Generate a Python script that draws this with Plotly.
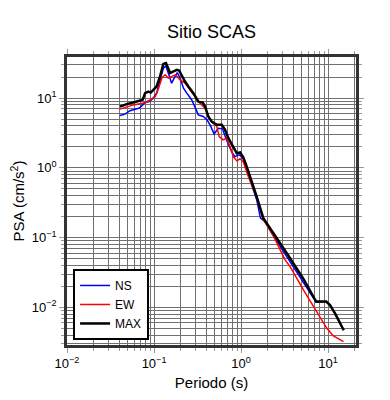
import plotly.graph_objects as go

# ---- data ----
T_max = [0.0406, 0.0485, 0.0606, 0.069, 0.0741, 0.0789, 0.0859, 0.0916, 0.098, 0.107,
         0.117, 0.128, 0.137, 0.146, 0.153, 0.167, 0.182, 0.194, 0.208, 0.227,
         0.248, 0.283, 0.323, 0.363, 0.386, 0.421, 0.46, 0.526, 0.60, 0.655,
         0.715, 0.815, 0.893, 0.975, 1.06, 1.16, 1.27, 1.51, 1.80, 2.35,
         3.35, 5.2, 7.28, 9.5, 10.5, 12.0, 15.1]
psa_max = [7.57, 8.2, 8.8, 9.2, 9.5, 11.8, 12.4, 12.0, 13.2, 14.7,
           20.4, 31.0, 31.8, 25.5, 22.9, 24.1, 25.5, 24.9, 20.9, 17.3,
           14.7, 11.8, 8.9, 8.65, 7.6, 5.4, 4.6, 4.14, 4.14, 3.5,
           2.67, 2.02, 1.62, 1.66, 1.42, 1.04, 0.75, 0.388, 0.19, 0.116,
           0.0597, 0.0255, 0.0121, 0.0121, 0.0108, 0.0082, 0.0047]

T_ns = [0.0406, 0.0464, 0.0529, 0.0606, 0.0679, 0.0741, 0.0789, 0.0881, 0.098, 0.107,
        0.117, 0.128, 0.137, 0.146, 0.159, 0.174, 0.185, 0.199, 0.218, 0.238,
        0.27, 0.295, 0.322, 0.368, 0.405, 0.44, 0.49, 0.547, 0.61, 0.68,
        0.78, 0.85, 0.95, 1.04, 1.11, 1.27, 1.51, 1.67, 1.89, 2.35,
        3.35, 5.2, 7.28, 9.5, 10.5, 12.0, 15.1]
psa_ns = [5.63, 5.9, 6.6, 6.95, 7.2, 8.0, 8.65, 8.9, 10.0, 11.8,
          18.3, 26.9, 29.0, 22.9, 16.4, 20.4, 23.3, 19.4, 13.9, 11.8,
          9.5, 7.5, 5.76, 5.45, 4.9, 4.14, 3.07, 3.69, 3.63, 2.52,
          1.7, 1.45, 1.54, 1.39, 1.22, 0.67, 0.35, 0.19, 0.17, 0.106,
          0.054, 0.0232, 0.0118, 0.0121, 0.0108, 0.0082, 0.0047]

T_ew = [0.0406, 0.0485, 0.0578, 0.069, 0.0789, 0.090, 0.103, 0.112, 0.123, 0.134,
        0.146, 0.159, 0.174, 0.185, 0.199, 0.227, 0.259, 0.295, 0.337, 0.386,
        0.421, 0.46, 0.526, 0.56, 0.62, 0.68, 0.75, 0.815, 0.893, 0.975,
        1.06, 1.21, 1.51, 1.79, 2.33, 3.2, 3.66, 5.2, 7.41, 9.66,
        11.5, 15.0]
psa_ew = [6.95, 7.43, 8.0, 8.28, 8.65, 9.46, 10.5, 13.5, 19.4, 21.6,
          19.4, 20.4, 21.6, 20.4, 18.3, 16.4, 13.2, 10.5, 8.48, 7.2,
          5.4, 4.6, 3.91, 2.81, 2.52, 2.67, 2.0, 1.44, 1.26, 1.35,
          1.22, 0.75, 0.38, 0.183, 0.108, 0.048, 0.0384, 0.0178, 0.00867, 0.00501,
          0.00389, 0.00322]

x_tickvals = [0.01, 0.1, 1, 10]
x_ticktext = ["10<sup>\u22122</sup>", "10<sup>\u22121</sup>", "10<sup>0</sup>", "10<sup>1</sup>"]
y_tickvals = [0.01, 0.1, 1, 10]
y_ticktext = ["10<sup>\u22122</sup>", "10<sup>\u22121</sup>", "10<sup>0</sup>", "10<sup>1</sup>"]

minor_x = [m * 10 ** e for e in range(-2, 2) for m in range(2, 10)]
minor_y = [m * 10 ** e for e in range(-3, 2) for m in range(2, 10)]

fig = go.Figure()
fig.add_trace(go.Scatter(x=T_ns, y=psa_ns, mode="lines", name="NS",
                         line=dict(color="#0000ff", width=1.5)))
fig.add_trace(go.Scatter(x=T_ew, y=psa_ew, mode="lines", name="EW",
                         line=dict(color="#ff0000", width=1.5)))
fig.add_trace(go.Scatter(x=T_max, y=psa_max, mode="lines", name="MAX",
                         line=dict(color="#000000", width=2.5)))

grid = "#707070"
axis_common = dict(
    type="log", showline=True, linecolor="#333333", linewidth=2.5, mirror="allticks",
    ticks="outside", ticklen=5, tickcolor="#999999", tickwidth=1,
    showgrid=True, gridcolor=grid, gridwidth=1, zeroline=False, automargin=False,
    tickfont=dict(size=13, color="black"),
)

fig.update_xaxes(**axis_common, range=[-2, 1.32], tickmode="array",
                 tickvals=x_tickvals, ticktext=x_ticktext,
                 minor=dict(tickmode="array", tickvals=minor_x, ticks="outside",
                            ticklen=3, tickcolor="#999999", showgrid=True,
                            gridcolor=grid, gridwidth=1),
                 title=dict(text="Periodo (s)", font=dict(size=15, color="black"), standoff=8))
fig.update_yaxes(**axis_common, range=[-2.54, 1.59], tickmode="array",
                 tickvals=y_tickvals, ticktext=y_ticktext,
                 minor=dict(tickmode="array", tickvals=minor_y, ticks="outside",
                            ticklen=3, tickcolor="#999999", showgrid=True,
                            gridcolor=grid, gridwidth=1),
                 title=dict(text="PSA (cm/s<sup>2</sup>)", font=dict(size=15, color="black"), standoff=10))

# page body has an 8px margin, so layout is offset by -8px
fig.update_layout(
    width=390, height=400,
    margin=dict(l=59, r=42, t=49, b=63, autoexpand=False),
    paper_bgcolor="white", plot_bgcolor="white",
    font=dict(family="Liberation Sans, Arial, sans-serif", color="black"),
    title=dict(text="Sitio SCAS", x=203.5 / 390, xanchor="center",
               y=1 - 24 / 400, yanchor="middle", font=dict(size=18, color="black")),
    legend=dict(x=0.021, y=0.264, xanchor="left", yanchor="top",
                bordercolor="black", borderwidth=2, bgcolor="white",
                font=dict(size=12, color="black"),
                itemwidth=30, tracegroupgap=0),
    showlegend=True,
)

fig.write_html("out.html")
